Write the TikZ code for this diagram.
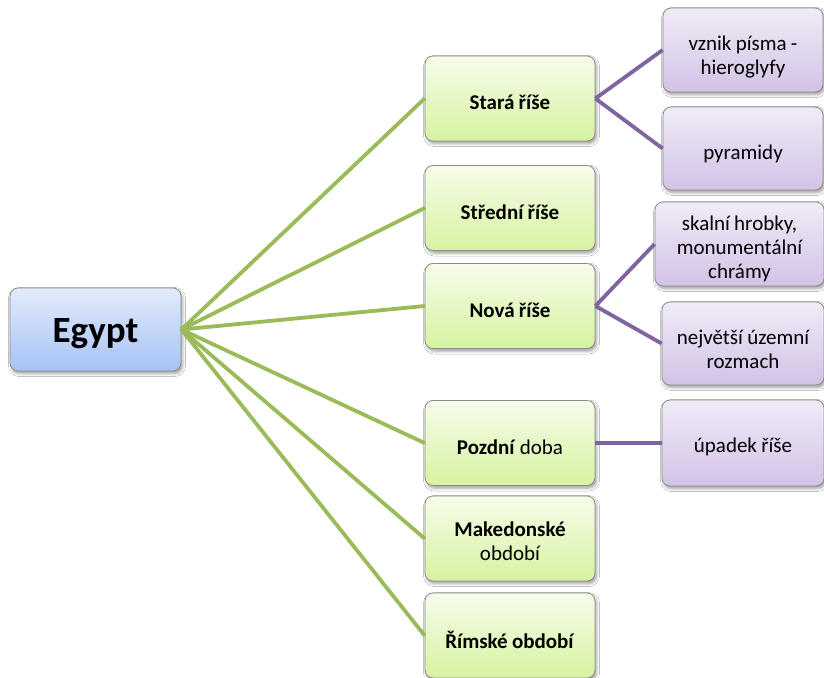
\documentclass[tikz,border=0pt]{standalone}
\usepackage{fontspec}
\setmainfont{Carlito}[WordSpace={0.9,0,0}]
\usetikzlibrary{shadows.blur}
\definecolor{egtop}{HTML}{E2EBFC}
\definecolor{egbot}{HTML}{A6C2F4}
\definecolor{grtop}{HTML}{F6FCEA}
\definecolor{grbot}{HTML}{D6F3A0}
\definecolor{putop}{HTML}{F1EBF7}
\definecolor{pubot}{HTML}{D2C2E6}
\definecolor{gline}{HTML}{9BBB59}
\definecolor{pline}{HTML}{8064A2}
\definecolor{bord}{HTML}{8C8C8C}
\tikzset{
  box/.style={draw=bord, line width=0.8pt, rounded corners=8pt, inner sep=0pt,
    blur shadow={shadow xshift=1.5pt, shadow yshift=-2.5pt, shadow blur radius=3pt, shadow opacity=40}},
  egbox/.style={box, top color=egtop, bottom color=egbot, minimum width=171pt, minimum height=83pt},
  grbox/.style={box, top color=grtop, bottom color=grbot, minimum width=170pt, minimum height=85pt},
  pubox/.style={box, top color=putop, bottom color=pubot, minimum height=84pt},
  egtext/.style={font=\fontsize{37}{40}\selectfont\bfseries, inner sep=0pt},
  btext/.style={align=center, inner sep=0pt, font=\fontsize{21}{24}\selectfont},
  gl/.style={draw=gline, line width=3.8pt},
  pl/.style={draw=pline, line width=3.8pt}
}
\begin{document}
\begin{tikzpicture}[x=1pt,y=-1pt]
\useasboundingbox (0,0) rectangle (824,677);
\fill[white] (0,0) rectangle (824,677);
% boxes
\node[egbox] (egypt) at (95.5,329.5) {};
\node[grbox] (g1) at (510,98.5) {};
\node[grbox] (g2) at (510,208) {};
\node[grbox] (g3) at (510,306) {};
\node[grbox] (g4) at (510,443) {};
\node[grbox] (g5) at (510,538.5) {};
\node[grbox] (g6) at (510,635.5) {};
\node[pubox, minimum width=160pt] (p1) at (743,50) {};
\node[pubox, minimum width=160pt, minimum height=83pt] (p2) at (743,148.5) {};
\node[pubox, minimum width=169pt] (p3) at (739.5,244) {};
\node[pubox, minimum width=162pt, minimum height=83pt] (p4) at (743,343.5) {};
\node[pubox, minimum width=162pt, minimum height=86pt] (p5) at (743,443) {};
% connectors
\foreach \g in {g1,g2,g3,g4,g5,g6} \draw[gl, shorten >=-0.5pt, shorten <=-0.5pt] (egypt.east) -- (\g.west);
\draw[pl] (g1.east) -- (p1.west);
\draw[pl] (g1.east) -- (p2.west);
\draw[pl] (g3.east) -- (p3.west);
\draw[pl] (g3.east) -- (p4.west);
\draw[pl] (g4.east) -- (p5.west);
% texts
\node[egtext] (te) at ([yshift=-4pt]egypt.center) {Egypt};
\node[btext] (t1) at ([yshift=-4pt]g1.center) {\textbf{Stará říše}};
\node[btext] (t2) at ([yshift=-4pt]g2.center) {\textbf{Střední říše}};
\node[btext] (t3) at ([yshift=-4pt]g3.center) {\textbf{Nová říše}};
\node[btext] (t4) at ([yshift=-4pt]g4.center) {\textbf{Pozdní} doba};
\node[btext] (t5) at ([yshift=-3pt]g5.center) {\textbf{Makedonské}\\období};
\node[btext] (t6) at ([yshift=-4pt]g6.center) {\textbf{Římské období}};
\node[btext] (q1) at ([yshift=-7pt]p1.center) {vznik písma -\\hieroglyfy};
\node[btext] (q2) at ([yshift=-5pt]p2.center) {pyramidy};
\node[btext] (q3) at ([yshift=-5pt]p3.center) {skalní hrobky,\\monumentální\\chrámy};
\node[btext] (q4) at ([yshift=-6pt]p4.center) {největší územní\\rozmach};
\node[btext] (q5) at ([yshift=-4pt]p5.center) {úpadek říše};
\end{tikzpicture}
\end{document}
